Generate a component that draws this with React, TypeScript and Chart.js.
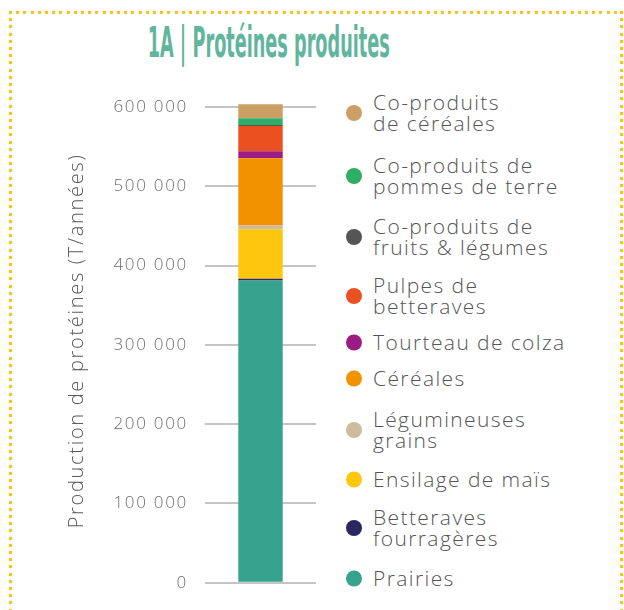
import React, { useEffect, useLayoutEffect, useRef } from "react";
import { Chart, registerables } from "chart.js";

Chart.register(...registerables);

const categories = ["Total"];
const seriesNames = [
  "Prairies",
  "Betteraves\nfourragères",
  "Ensilage de maïs",
  "Légumineuses\ngrains",
  "Céréales",
  "Tourteau de colza",
  "Pulpes de\nbetteraves",
  "Co-produits de\nfruits & légumes",
  "Co-produits de\npommes de terre",
  "Co-produits\nde céréales",
];
const seriesValues = [381000, 2500, 62400, 4500, 85000, 8800, 31800, 1300, 8400, 17600];
const seriesColors = [
  "#35A38E",
  "#2B2560",
  "#FDC70F",
  "#CDBB9E",
  "#F39200",
  "#9B1D84",
  "#EB5020",
  "#555555",
  "#2FAE66",
  "#CBA064",
];
const tickValues = [0, 100000, 200000, 300000, 400000, 500000, 600000];
const yAxisTitle = "Production de protéines (T/années)";
const chartTitle = "1A | Protéines produites";

// vertical centre of each legend entry (layout only), in series order
const legendCenters = [578, 528, 479, 430, 378, 342, 296, 237, 176, 113];

const fmt = (v: number) => String(v).replace(/\B(?=(\d{3})+(?!\d))/g, " ");

const FONT = "'Open Sans', 'Noto Sans', sans-serif";

const spacingPlugin = {
  id: "letterSpacing",
  beforeDraw(chart: any) {
    chart.ctx.letterSpacing = "1.7px";
  },
  beforeLayout(chart: any) {
    chart.ctx.letterSpacing = "1.7px";
  },
};

export default function App() {
  const canvasRef = useRef<HTMLCanvasElement | null>(null);
  const titleRef = useRef<HTMLDivElement | null>(null);

  useLayoutEffect(() => {
    const el = titleRef.current;
    if (el) {
      el.style.transform = "none";
      const w = el.getBoundingClientRect().width;
      if (w > 0) el.style.transform = `scaleX(${242 / w})`;
    }
  }, []);

  useEffect(() => {
    if (!canvasRef.current) return;
    const chart = new Chart(canvasRef.current, {
      type: "bar",
      data: {
        labels: categories,
        datasets: seriesNames.map((name, i) => ({
          label: name.replace("\n", " "),
          data: [seriesValues[i]],
          backgroundColor: seriesColors[i],
          borderWidth: 0,
          barPercentage: 0.4,
          categoryPercentage: 1,
        })),
      },
      options: {
        animation: false,
        responsive: false,
        maintainAspectRatio: false,
        layout: { padding: { left: 0, right: 14, top: 99, bottom: 20 } },
        plugins: {
          legend: { display: false },
          tooltip: { enabled: false },
          title: { display: false },
        },
        scales: {
          x: {
            stacked: true,
            display: false,
          },
          y: {
            stacked: true,
            min: 0,
            max: 610000,
            border: { display: false },
            grid: { color: "#C4C4C4", lineWidth: 2, drawTicks: false },
            afterBuildTicks: (scale: any) => {
              scale.ticks = tickValues.map((v) => ({ value: v }));
            },
            afterFit: (scale: any) => {
              scale.width = 205;
            },
            ticks: {
              padding: 17,
              color: "#6E6E6E",
              font: { family: FONT, size: 17, weight: "300" as any },
              callback: (v: any) => fmt(Number(v)),
            },
            title: {
              display: true,
              text: yAxisTitle,
              color: "#5A5A5A",
              font: { family: FONT, size: 20, weight: "300" as any, lineHeight: 1.2 },
              padding: { top: 65, bottom: 0 },
            },
          },
        },
      },
      plugins: [spacingPlugin],
    });
    return () => chart.destroy();
  }, []);

  return (
    <div style={{ position: "absolute", left: 0, top: 0, width: 624, height: 610, overflow: "hidden", background: "#fff" }}>
      {/* dotted frame */}
      <div
        style={{
          position: "absolute",
          left: 9,
          top: 11,
          width: 614,
          height: 3,
          backgroundImage: "repeating-linear-gradient(to right, #FFC20E 0px, #FFC20E 3px, transparent 3px, transparent 7.2px)",
        }}
      />
      <div
        style={{
          position: "absolute",
          left: 9,
          top: 11,
          width: 3,
          height: 600,
          backgroundImage: "repeating-linear-gradient(to bottom, #FFC20E 0px, #FFC20E 3px, transparent 3px, transparent 7.2px)",
        }}
      />
      <div
        style={{
          position: "absolute",
          left: 620,
          top: 11,
          width: 3,
          height: 600,
          backgroundImage: "repeating-linear-gradient(to bottom, #FFC20E 0px, #FFC20E 3px, transparent 3px, transparent 7.2px)",
        }}
      />
      {/* title */}
      <div style={{ position: "absolute", left: 0, width: 538, top: 22, display: "flex", justifyContent: "center" }}>
        <div
          ref={titleRef}
          style={{
            fontFamily: "'Liberation Sans Narrow', 'DejaVu Sans Condensed', sans-serif",
            fontWeight: "bold",
            fontSize: 42,
            lineHeight: 1,
            color: "#62B59D",
            whiteSpace: "nowrap",
            transformOrigin: "center",
          }}
        >
          {chartTitle}
        </div>
      </div>
      {/* chart */}
      <canvas ref={canvasRef} width={330} height={610} style={{ position: "absolute", left: 0, top: 0, width: 330, height: 610 }} />
      {/* legend */}
      <div
        style={{
          fontFamily: FONT,
          fontWeight: 300,
          fontSize: 21,
          lineHeight: "21px",
          letterSpacing: "1.4px",
          color: "#555555",
        }}
      >
        {seriesNames.map((name, i) => (
          <div
            key={i}
            style={{
              position: "absolute",
              left: 346,
              top: legendCenters[i],
              transform: "translateY(-50%)",
              display: "flex",
              alignItems: "center",
            }}
          >
            <span
              style={{
                display: "inline-block",
                width: 16,
                height: 16,
                borderRadius: 8,
                background: seriesColors[i],
                marginRight: 11,
                flex: "0 0 auto",
              }}
            />
            <span style={{ whiteSpace: "pre-line" }}>{name}</span>
          </div>
        ))}
      </div>
    </div>
  );
}
